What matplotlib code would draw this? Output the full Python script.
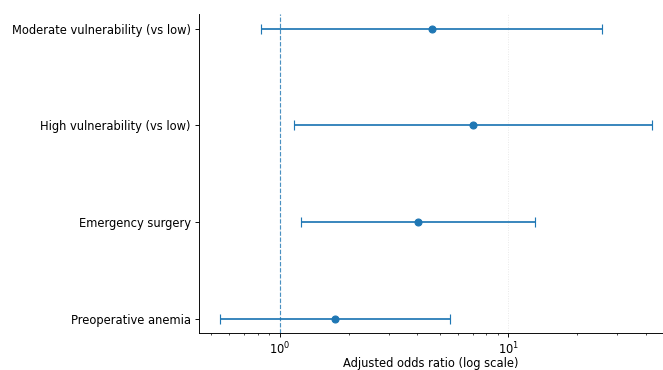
import matplotlib.pyplot as plt
import numpy as np

# predictors, top to bottom as shown
labels = ['Moderate vulnerability (vs low)', 'High vulnerability (vs low)',
          'Emergency surgery', 'Preoperative anemia']
odds = [4.62, 7.01, 4.02, 1.75]
ci_low = [0.826, 1.16, 1.235, 0.548]
ci_high = [25.7, 42.4, 13.08, 5.58]

DPI = 83
fig = plt.figure(figsize=(663 / DPI, 370 / DPI), dpi=DPI)
ax = fig.add_axes([0.300, 0.099, 0.700, 0.863])

y = np.arange(len(labels))[::-1]
odds = np.array(odds)
err = [odds - np.array(ci_low), np.array(ci_high) - odds]

ax.errorbar(odds, y, xerr=err, fmt='o', color='tab:blue', capsize=4)
ax.axvline(1, color='tab:blue', linestyle='--', linewidth=1, alpha=0.8)
ax.set_xscale('log')
ax.set_xlim(0.443, 47.5)
ax.set_ylim(-0.15, 3.15)
ax.set_yticks(y)
ax.set_yticklabels(labels)
ax.tick_params(axis='x', pad=2.5)
ax.set_xlabel('Adjusted odds ratio (log scale)', labelpad=0.5)
ax.grid(axis='x', which='major', linestyle=':', alpha=0.3)
ax.spines['top'].set_visible(False)
ax.spines['right'].set_visible(False)

plt.savefig('out.png', dpi=DPI)
